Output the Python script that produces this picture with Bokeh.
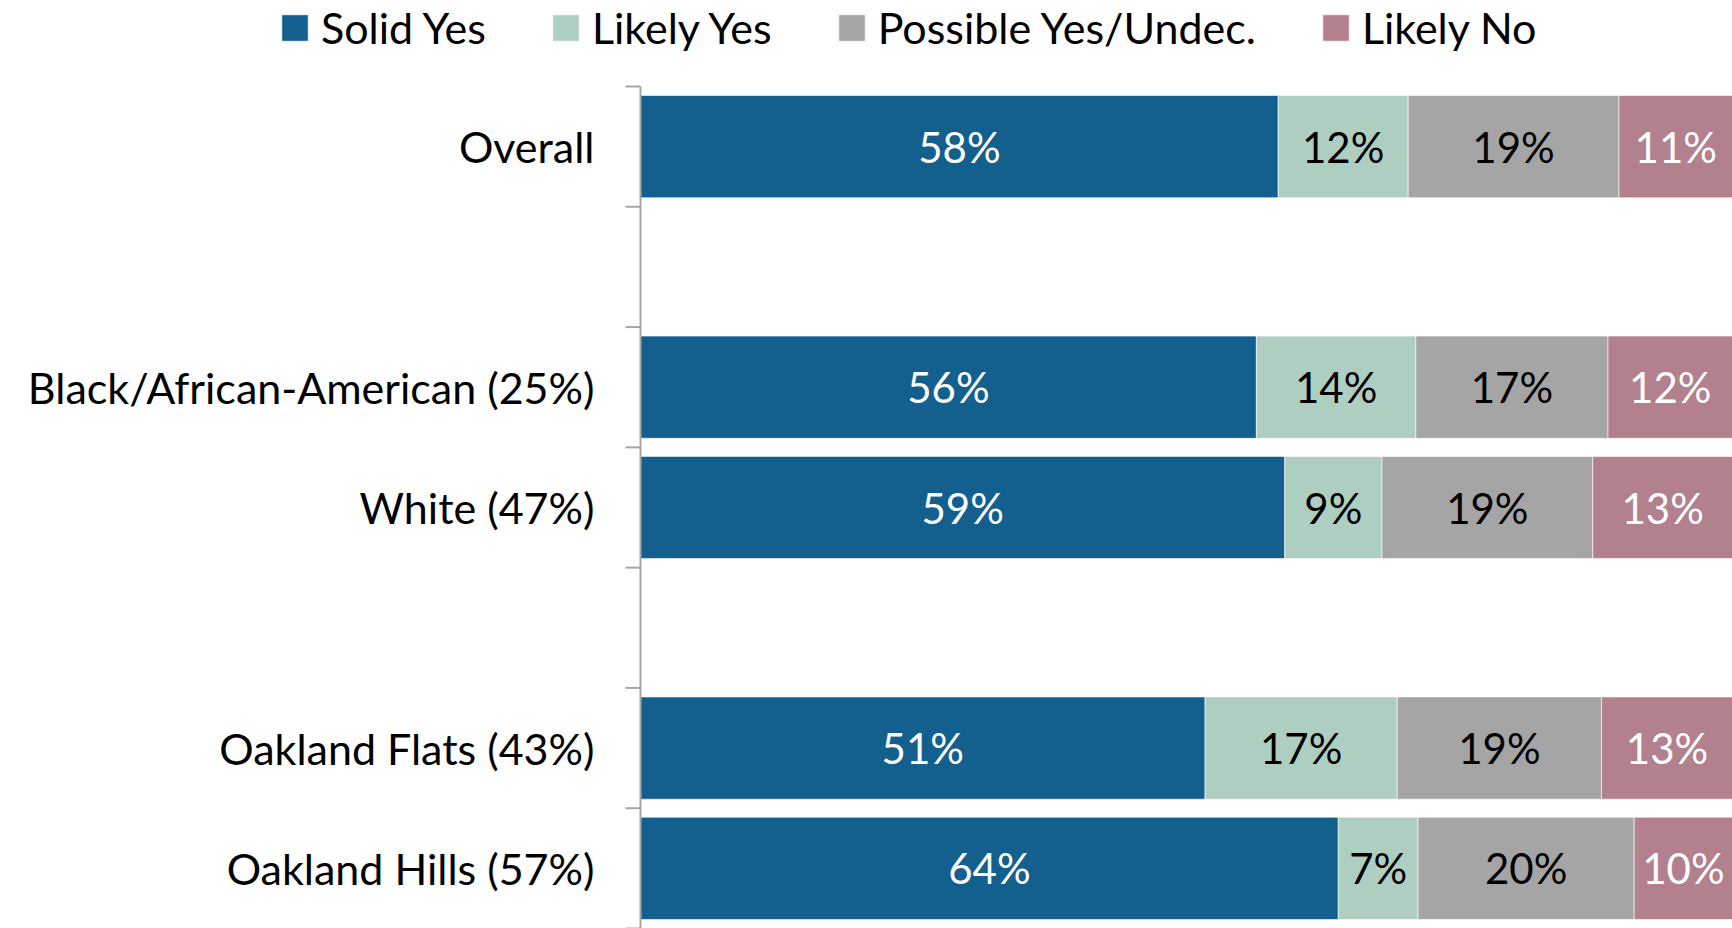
import math
from bokeh.plotting import figure
from bokeh.models import Range1d, Legend, LegendItem, ColumnDataSource
from bokeh.core.properties import value
from bokeh.embed import file_html
from bokeh.resources import INLINE

# ---- data ----
groups = [
    ["Overall"],
    ["Black/African-American (25%)", "White (47%)"],
    ["Oakland Flats (43%)", "Oakland Hills (57%)"],
]
series_names = ["Solid Yes", "Likely Yes", "Possible Yes/Undec.", "Likely No"]
# segment lengths (share of respondents, %)
solid_yes = [58.4, 56.4, 59.0, 51.7, 63.9]
likely_yes = [11.9, 14.6, 8.9, 17.6, 7.3]
possible_yes = [19.3, 17.6, 19.3, 18.7, 19.8]
likely_no = [10.4, 11.4, 12.8, 12.0, 9.0]
# printed data labels (%)
solid_yes_lbl = [58, 56, 59, 51, 64]
likely_yes_lbl = [12, 14, 9, 17, 7]
possible_yes_lbl = [19, 17, 19, 19, 20]
likely_no_lbl = [11, 12, 13, 13, 10]

# ---- style / layout ----
COLORS = ["#13608F", "#AFCEC2", "#A5A5A5", "#B3808E"]
TEXT_COLORS = ["white", "black", "black", "white"]
FONT = "Lato"
FS_AXIS = "43px"
FS_BAR = "42px"
FS_LEG = "43px"
AXIS_GRAY = "#A6A6A6"
W, H = 1732, 928
AXIS_PX = 640      # pixel column of the category axis
TOP_PX = 86        # space above the first slot (legend strip)
TICK_PX = 15
LABEL_GAP = 46

# ---- rows (one empty slot between groups) ----
categories, ypos = [], []
slot = 0
for gi, g in enumerate(groups):
    for c in g:
        categories.append(c)
        ypos.append(slot)
        slot += 1
    if gi < len(groups) - 1:
        slot += 1
n_slots = slot

slot_px = (H - TOP_PX) / n_slots
x_start = -100.0 * AXIS_PX / (W - AXIS_PX)
y_top = -0.5 - TOP_PX / slot_px

p = figure(width=W, height=H, output_backend="svg", toolbar_location=None,
           x_range=Range1d(x_start, 100), y_range=Range1d(n_slots - 0.5, y_top),
           min_border_left=0, min_border_right=0, min_border_top=0,
           min_border_bottom=0, title=None)
p.outline_line_color = None
p.grid.visible = False
p.xaxis.visible = False
p.yaxis.visible = False
p.background_fill_color = "white"
p.border_fill_color = "white"

# ---- stacked bars ----
values = [solid_yes, likely_yes, possible_yes, likely_no]
labels = [solid_yes_lbl, likely_yes_lbl, possible_yes_lbl, likely_no_lbl]
left = [0.0] * len(categories)
renderers = []
for k, (vals, lbls) in enumerate(zip(values, labels)):
    right = [l + v for l, v in zip(left, vals)]
    src = ColumnDataSource(dict(
        y=ypos, left=left, right=right,
        mid=[(l + r) / 2 for l, r in zip(left, right)],
        txt=[f"{v}%" for v in lbls]))
    r = p.hbar(y="y", left="left", right="right", height=0.85, source=src,
               fill_color=COLORS[k], line_color="white", line_alpha=0.6, line_width=1)
    renderers.append(r)
    p.text(x="mid", y="y", text="txt", source=src, text_align="center",
           text_baseline="middle", text_font=value(FONT), text_font_size=FS_BAR,
           text_color=TEXT_COLORS[k])
    left = right

# ---- category axis (line, slot-boundary ticks, labels) ----
bounds = [i - 0.5 for i in range(n_slots + 1)]
p.segment(x0=[0], y0=[bounds[0]], x1=[0], y1=[bounds[-1]],
          line_color=AXIS_GRAY, line_width=2)
p.ray(x=[0] * len(bounds), y=bounds, length=TICK_PX, length_units="screen",
      angle=math.pi, line_color=AXIS_GRAY, line_width=2)
p.text(x=[0] * len(categories), y=ypos, text=categories, x_offset=-LABEL_GAP,
       text_align="right", text_baseline="middle", text_font=value(FONT),
       text_font_size=FS_AXIS, text_color="black")

# ---- legend along the top ----
leg = Legend(items=[LegendItem(label=n, renderers=[r]) for n, r in zip(series_names, renderers)],
             location=(278, 875), orientation="horizontal",
             glyph_width=33, glyph_height=33, label_standoff=10,
             padding=0, margin=0, spacing=63,
             border_line_color=None, background_fill_alpha=0,
             label_text_font=FONT, label_text_font_size=FS_LEG,
             label_text_color="black", label_text_baseline="middle")
p.add_layout(leg)

open("out.html", "w").write(file_html(p, INLINE))
